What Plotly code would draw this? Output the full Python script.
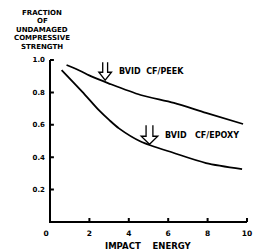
import plotly.graph_objects as go

# Data
peek_x = [0.84, 1.49, 2.13, 2.97, 4.60, 6.29, 7.92, 9.80]
peek_y = [0.969, 0.935, 0.897, 0.856, 0.784, 0.735, 0.673, 0.605]
epoxy_x = [0.59, 1.63, 2.48, 3.00, 3.50, 4.60, 6.29, 7.92, 9.75]
epoxy_y = [0.938, 0.805, 0.690, 0.630, 0.578, 0.497, 0.426, 0.364, 0.327]

bvid_labels = ["BVID\u00a0\u00a0CF/PEEK", "BVID\u00a0\u00a0\u00a0CF/EPOXY"]
bvid_energy = [2.8, 5.05]
bvid_tip = [0.875, 0.48]

x_ticks = [0, 2, 4, 6, 8, 10]
x_ticktext = ["0\u00a0\u00a0\u00a0", "2", "4", "6", "8", "10"]
y_ticks = [0.2, 0.4, 0.6, 0.8, 1.0]
y_ticktext = ["0.2", "0.4", "0.6", "0.8", "1.0"]
y_title_lines = ["FRACTION", "OF", "UNDAMAGED", "COMPRESSIVE", "STRENGTH"]
x_title = "IMPACT\u00a0\u00a0\u00a0\u00a0ENERGY"

FONT = "DejaVu Sans"
W, H = 260, 250
ML, MR, MT, MB = 50, 8, 60, 28
XR, YR = [0, 10], [0, 1.0]
PW, PH = W - ML - MR, H - MT - MB
px_x = PW / (XR[1] - XR[0])   # pixels per x unit
px_y = PH / (YR[1] - YR[0])   # pixels per y unit
TICK = 4

fig = go.Figure()
for xs, ys in [(peek_x, peek_y), (epoxy_x, epoxy_y)]:
    fig.add_trace(go.Scatter(x=xs, y=ys, mode="lines",
                             line=dict(color="black", width=1.8, shape="spline", smoothing=0.8),
                             showlegend=False, hoverinfo="skip"))

annotations = []
for i, t in enumerate(y_title_lines):
    annotations.append(dict(text="<b>%s</b>" % t, xref="paper", yref="paper",
                            x=0, y=1, xshift=-8, yshift=47 - i * 8.4,
                            xanchor="center", yanchor="middle", showarrow=False,
                            font=dict(family=FONT, size=7, color="black")))
annotations.append(dict(text="<b>%s</b>" % x_title, xref="paper", yref="paper",
                        x=0.5, y=0, yshift=-24, xanchor="center", yanchor="middle",
                        showarrow=False, font=dict(family=FONT, size=8.5, color="black")))

shapes = []
# axis frame (L shape) with inside ticks, drawn as one path in paper coordinates
fx = lambda v: (v - XR[0]) / (XR[1] - XR[0])
fy = lambda v: (v - YR[0]) / (YR[1] - YR[0])
frame = "M 0,1 L 0,0 L 1,0"
for v in x_ticks[1:]:
    frame += " M %.4f,0 L %.4f,%.4f" % (fx(v), fx(v), TICK / PH)
for v in y_ticks:
    frame += " M 0,%.4f L %.4f,%.4f" % (fy(v), TICK / PW, fy(v))
shapes.append(dict(type="path", xref="paper", yref="paper", path=frame,
                   line=dict(color="black", width=2)))

sizes = [(2.5, 6.5, 10, 8), (3.5, 8.5, 11, 8)]
for lab, ex, ty, (sw, hw, sh, hh) in zip(bvid_labels, bvid_energy, bvid_tip, sizes):
    pts = [(-sw, hh + sh), (-sw, hh), (-hw, hh), (0, 0), (hw, hh), (sw, hh), (sw, hh + sh)]
    path = "M " + " L ".join("%.4f,%.4f" % (ex + dx / px_x, ty + dy / px_y) for dx, dy in pts)
    shapes.append(dict(type="path", xref="x", yref="y", path=path,
                       line=dict(color="black", width=1.3)))
    annotations.append(dict(text="<b>%s</b>" % lab, xref="x", yref="y", x=ex, y=ty,
                            xshift=hw + 5, yshift=hh + 1, xanchor="left", yanchor="middle",
                            showarrow=False, font=dict(family=FONT, size=8, color="black")))

fig.update_layout(
    width=W, height=H,
    margin=dict(l=ML, r=MR, t=MT, b=MB),
    paper_bgcolor="white", plot_bgcolor="white",
    font=dict(family=FONT, size=7, color="black"),
    annotations=annotations, shapes=shapes,
)
fig.update_xaxes(range=XR, showgrid=False, zeroline=False, showline=False, ticks="",
                 tickmode="array", tickvals=x_ticks, ticktext=["<b>%s</b>" % t for t in x_ticktext],
                 tickfont=dict(family=FONT, size=7.5), ticklabelstandoff=5)
fig.update_yaxes(range=YR, showgrid=False, zeroline=False, showline=False, ticks="",
                 tickmode="array", tickvals=y_ticks, ticktext=["<b>%s</b>" % t for t in y_ticktext],
                 tickfont=dict(family=FONT, size=7), ticklabelstandoff=4)

fig.write_html("out.html", config={"displayModeBar": False},
               post_script="document.body.style.margin='0';document.body.style.overflow='hidden';")
